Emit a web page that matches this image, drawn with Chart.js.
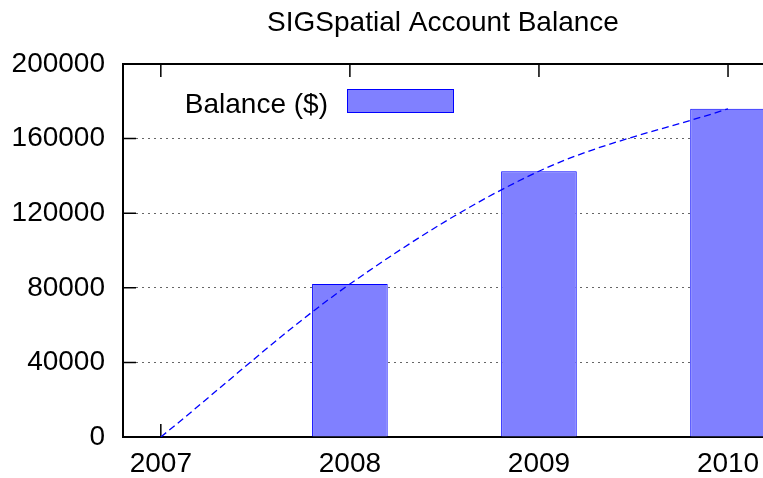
<!DOCTYPE html>
<html>
<head>
<meta charset="utf-8">
<script src="https://cdn.jsdelivr.net/npm/chart.js@4"></script>
<style>
  html, body { margin: 0; padding: 0; background: #fff; overflow: hidden; }
  #wrap { width: 763px; height: 478px; }
</style>
</head>
<body>
<div id="wrap"><canvas id="myChart"></canvas></div>
<script>
// data
const years = [2007, 2008, 2009, 2010];
const balance = [0, 82000, 142500, 176000];
const yTicks = [0, 40000, 80000, 120000, 160000, 200000];
const titleText = "SIGSpatial Account Balance";
const seriesLabel = "Balance ($)";

const FONT = "'Liberation Sans', Arial, sans-serif";
const points = years.map((y, i) => ({ x: y, y: balance[i] }));

// gnuplot style ticks that point inwards, drawn under the bars
const inwardTicks = {
  id: "inwardTicks",
  beforeDatasetsDraw(chart) {
    const ctx = chart.ctx;
    const a = chart.chartArea;
    const xs = chart.scales.x, ys = chart.scales.y;
    ctx.save();
    ctx.strokeStyle = "#000";
    ctx.lineWidth = 1.5;
    ctx.beginPath();
    yTicks.forEach(v => {
      const p = ys.getPixelForValue(v);
      ctx.moveTo(a.left, p);
      ctx.lineTo(a.left + 13, p);
    });
    years.forEach(v => {
      const p = xs.getPixelForValue(v);
      ctx.moveTo(p, a.top);
      ctx.lineTo(p, a.top + 13);
      ctx.moveTo(p, a.bottom);
      ctx.lineTo(p, a.bottom - 13);
    });
    ctx.stroke();
    ctx.restore();
  }
};

// key placed inside the plot like gnuplot does
const insideKey = {
  id: "insideKey",
  afterDraw(chart) {
    const ctx = chart.ctx;
    const a = chart.chartArea;
    const ds = chart.data.datasets[0];
    ctx.save();
    ctx.font = "28px " + FONT;
    ctx.fillStyle = "#000";
    ctx.textAlign = "right";
    ctx.textBaseline = "alphabetic";
    ctx.fillText(ds.label, a.left + 205, a.top + 49);
    ctx.fillStyle = ds.backgroundColor;
    ctx.fillRect(a.left + 224, a.top + 25, 107, 24);
    ctx.strokeStyle = ds.borderColor;
    ctx.lineWidth = 1;
    ctx.strokeRect(a.left + 224.5, a.top + 25.5, 106, 23);
    ctx.restore();
  }
};

const setYears = s => { s.ticks = years.map(v => ({ value: v })); };
const noSidePad = h => s => { s.height = h; s.paddingLeft = 0; s.paddingRight = 0; };

var ctx = document.getElementById("myChart").getContext("2d");
var mychart = new Chart(ctx, {
  type: "bar",
  data: {
    datasets: [
      {
        type: "bar",
        label: seriesLabel,
        data: points,
        backgroundColor: "#8080ff",
        borderColor: "#0000ff",
        borderWidth: 1,
        borderSkipped: "start",
        barPercentage: 0.4,
        categoryPercentage: 1,
        order: 2
      },
      {
        type: "line",
        label: "trend",
        data: points,
        borderColor: "#0000ff",
        borderWidth: 1.3,
        borderDash: [7, 4],
        pointRadius: 0,
        cubicInterpolationMode: "monotone",
        fill: false,
        order: 1
      }
    ]
  },
  plugins: [inwardTicks, insideKey],
  options: {
    responsive: true,
    maintainAspectRatio: false,
    animation: false,
    layout: { padding: 0 },
    plugins: {
      legend: { display: false },
      tooltip: { enabled: false },
      title: { display: false }
    },
    scales: {
      x: {
        type: "linear",
        position: "bottom",
        min: 2006.8,
        max: 2010.185,
        offset: false,
        afterBuildTicks: setYears,
        afterFit: noSidePad(41),
        grid: { display: false, drawTicks: false },
        border: { display: true, color: "#000", width: 2 },
        ticks: {
          color: "#000",
          font: { family: FONT, size: 28 },
          padding: 10,
          maxRotation: 0,
          autoSkip: false,
          callback: v => String(v)
        }
      },
      x2: {
        type: "linear",
        position: "top",
        min: 2006.8,
        max: 2010.185,
        offset: false,
        afterBuildTicks: setYears,
        afterFit: noSidePad(64),
        grid: { display: false, drawTicks: false },
        border: { display: true, color: "#000", width: 2 },
        ticks: { display: false },
        title: {
          display: true,
          text: titleText,
          color: "#000",
          font: { family: FONT, size: 28, lineHeight: 1.2 },
          padding: { top: 6, bottom: 0 }
        }
      },
      y: {
        min: 0,
        max: 200000,
        afterBuildTicks: s => { s.ticks = yTicks.map(v => ({ value: v })); },
        afterFit: s => { s.width = 123; },
        grid: {
          drawTicks: false,
          color: c => (c.tick.value === 0 || c.tick.value === 200000) ? "rgba(0,0,0,0)" : "#666",
          lineWidth: 1
        },
        // in v4 border.dash styles the grid lines
        border: { display: true, color: "#000", width: 2, dash: [2, 4] },
        ticks: {
          color: "#000",
          font: { family: FONT, size: 28 },
          padding: 18,
          callback: v => String(v)
        }
      }
    }
  }
});
</script>
</body>
</html>
